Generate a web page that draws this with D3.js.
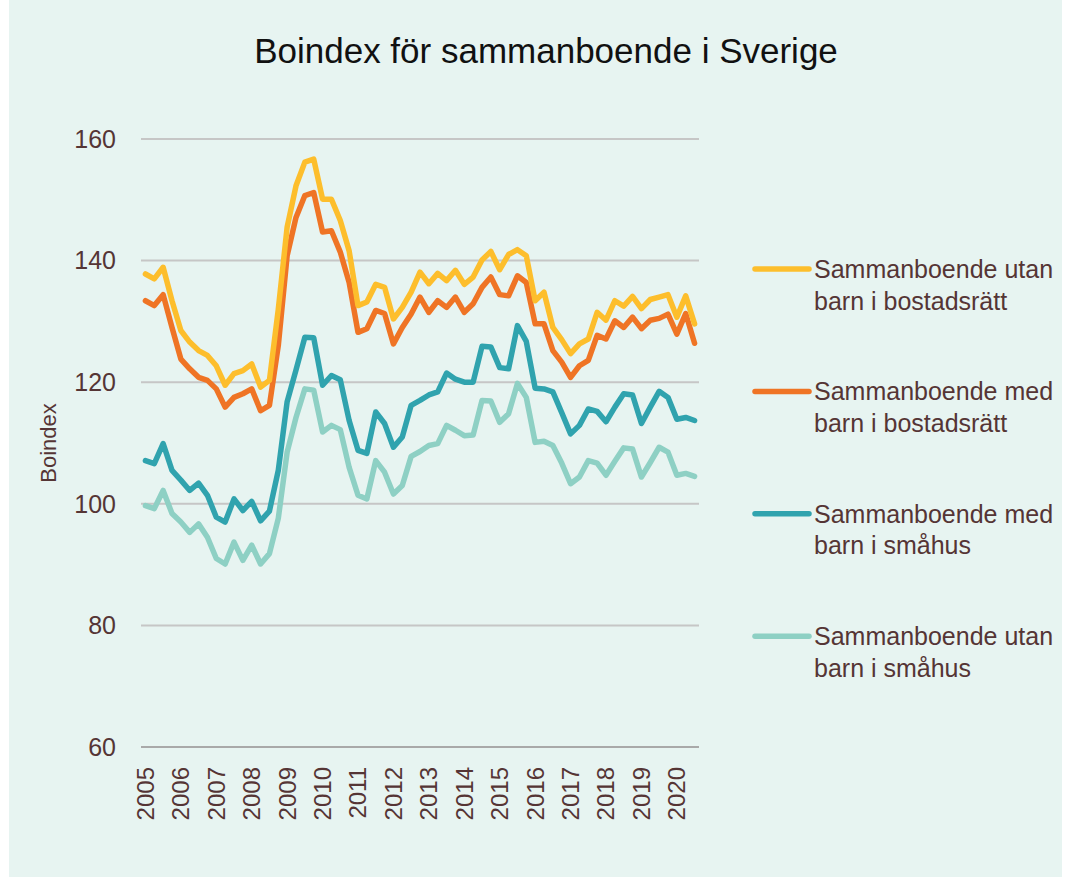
<!DOCTYPE html>
<html>
  <head>
    <meta charset="utf-8">
    <script src="https://cdn.jsdelivr.net/npm/d3@7"></script>
    <style>
      html, body {
        margin: 0;
        padding: 0;
        background: #ffffff;
      }
      svg text {
        font-family: 'Liberation Sans', Arial, sans-serif;
      }
    </style>
  </head>
  <body>
    <svg width="1071" height="878"></svg>
    <script>
      // Kvartal 2005K1 - 2020K3
      const years = d3.range(2005, 2021);
      const quarters = years.flatMap(y => [1, 2, 3, 4].map(q => `${y}K${q}`)).slice(0, 63);

      const utanBostadsratt = [
        137.8, 137.0, 138.9, 133.4, 128.5, 126.6, 125.2, 124.4, 122.7, 119.5,
        121.4, 121.9, 123.0, 119.2, 120.3, 132.0, 145.5, 152.3, 156.2, 156.7,
        150.1, 150.1, 146.6, 141.6, 132.6, 133.2, 136.1, 135.6, 130.4, 132.3,
        134.8, 138.1, 136.2, 137.9, 136.7, 138.4, 136.1, 137.3, 140.1, 141.5,
        138.5, 141.0, 141.8, 140.8, 133.4, 134.8, 129.0, 127.0, 124.7, 126.3,
        127.1, 131.5, 130.2, 133.4, 132.5, 134.1, 132.1, 133.6, 134.0, 134.4,
        130.7, 134.2, 129.6
      ];
      const medBostadsratt = [
        133.4, 132.6, 134.4, 129.0, 123.8, 122.2, 120.8, 120.3, 118.9, 115.9,
        117.5, 118.1, 118.9, 115.3, 116.2, 126.0, 140.8, 147.1, 150.7, 151.2,
        144.7, 144.9, 141.4, 136.4, 128.2, 128.8, 131.8, 131.3, 126.3, 129.0,
        131.2, 134.0, 131.5, 133.4, 132.3, 134.0, 131.5, 132.9, 135.6, 137.3,
        134.4, 134.2, 137.5, 136.4, 129.6, 129.6, 125.2, 123.3, 120.8, 122.7,
        123.6, 127.7, 127.1, 130.1, 129.0, 130.7, 128.8, 130.2, 130.5, 131.2,
        127.9, 131.3, 126.4
      ];
      const medSmahus = [
        107.1, 106.6, 109.9, 105.5, 103.9, 102.2, 103.4, 101.4, 97.8, 97.0,
        100.8, 98.9, 100.4, 97.2, 98.8, 105.5, 116.8, 122.0, 127.4, 127.3,
        119.5, 121.1, 120.4, 113.7, 108.8, 108.3, 115.1, 113.2, 109.3, 111.0,
        116.2, 117.0, 117.9, 118.4, 121.5, 120.5, 120.0, 120.0, 125.9, 125.8,
        122.4, 122.2, 129.3, 126.7, 119.0, 118.9, 118.4, 115.0, 111.5, 112.9,
        115.6, 115.2, 113.5, 115.9, 118.1, 117.9, 113.2, 115.9, 118.5, 117.5,
        113.9, 114.2, 113.7
      ];
      const utanSmahus = [
        99.7, 99.2, 102.2, 98.4, 97.0, 95.3, 96.7, 94.5, 91.0, 90.1,
        93.7, 90.7, 93.2, 90.1, 91.8, 97.6, 108.5, 114.2, 118.9, 118.7,
        111.8, 112.9, 112.2, 106.0, 101.4, 100.8, 107.1, 105.2, 101.6, 103.0,
        107.8, 108.6, 109.6, 109.9, 112.9, 112.1, 111.2, 111.3, 117.0, 116.9,
        113.4, 114.8, 119.8, 117.5, 110.1, 110.3, 109.6, 106.7, 103.3, 104.4,
        107.1, 106.7, 104.7, 107.0, 109.2, 109.0, 104.4, 106.8, 109.3, 108.5,
        104.7, 105.0, 104.5
      ];

      const yTicks = [60, 80, 100, 120, 140, 160];

      const series = [
        { name: ["Sammanboende utan", "barn i bostadsrätt"], values: utanBostadsratt, color: "#fdbe2c" },
        { name: ["Sammanboende med", "barn i bostadsrätt"], values: medBostadsratt, color: "#ef7425" },
        { name: ["Sammanboende med", "barn i småhus"], values: medSmahus, color: "#30a3ae" },
        { name: ["Sammanboende utan", "barn i småhus"], values: utanSmahus, color: "#8ed0c4" }
      ];

      const svg = d3.select("svg");
      const textColor = "#553535";

      // bakgrund
      svg.append("rect")
        .attr("x", 9).attr("y", 0)
        .attr("width", 1053).attr("height", 877)
        .attr("fill", "#e7f4f1");

      svg.append("text")
        .attr("x", 546).attr("y", 63)
        .attr("text-anchor", "middle")
        .attr("font-size", 35)
        .attr("fill", "#111")
        .text("Boindex för sammanboende i Sverige");

      const x = d3.scalePoint().domain(quarters).range([141, 699]).padding(0.5);
      const y = d3.scaleLinear().domain([60, 160]).range([747, 139]);

      // rutnät
      svg.append("g")
        .selectAll("line")
        .data(yTicks)
        .join("line")
        .attr("x1", 141).attr("x2", 699)
        .attr("y1", d => y(d)).attr("y2", d => y(d))
        .attr("stroke", d => d === 60 ? "#a9a9a9" : "#c6c6c6")
        .attr("stroke-width", 2);

      svg.append("g")
        .selectAll("text")
        .data(yTicks)
        .join("text")
        .attr("x", 116)
        .attr("y", d => y(d))
        .attr("dy", "0.35em")
        .attr("text-anchor", "end")
        .attr("font-size", 25)
        .attr("fill", textColor)
        .text(d => d);

      svg.append("text")
        .attr("transform", `translate(56,${y(110)}) rotate(-90)`)
        .attr("text-anchor", "middle")
        .attr("font-size", 22)
        .attr("fill", textColor)
        .text("Boindex");

      // år-etiketter
      svg.append("g")
        .selectAll("text")
        .data(years)
        .join("text")
        .attr("transform", d => `translate(${x(d + "K1")},767) rotate(-90)`)
        .attr("dy", "0.35em")
        .attr("text-anchor", "end")
        .attr("font-size", 24)
        .attr("fill", textColor)
        .text(d => d);

      const line = d3.line()
        .x((d, i) => x(quarters[i]))
        .y(d => y(d));

      svg.append("g")
        .selectAll("path")
        .data(series.slice().reverse())
        .join("path")
        .attr("d", d => line(d.values))
        .attr("fill", "none")
        .attr("stroke", d => d.color)
        .attr("stroke-width", 5.5)
        .attr("stroke-linejoin", "round")
        .attr("stroke-linecap", "round");

      // legend
      const legend = svg.append("g")
        .selectAll("g")
        .data(series)
        .join("g")
        .attr("transform", (d, i) => `translate(753,${269 + i * 122.4})`);

      legend.append("line")
        .attr("x1", 2).attr("x2", 56)
        .attr("stroke", d => d.color)
        .attr("stroke-width", 5.5)
        .attr("stroke-linecap", "round");

      legend.append("text")
        .attr("x", 61)
        .attr("font-size", 25)
        .attr("fill", textColor)
        .selectAll("tspan")
        .data(d => d.name)
        .join("tspan")
        .attr("x", 61)
        .attr("y", (d, i) => 9 + i * 31.5)
        .text(d => d);
    </script>
  </body>
</html>
